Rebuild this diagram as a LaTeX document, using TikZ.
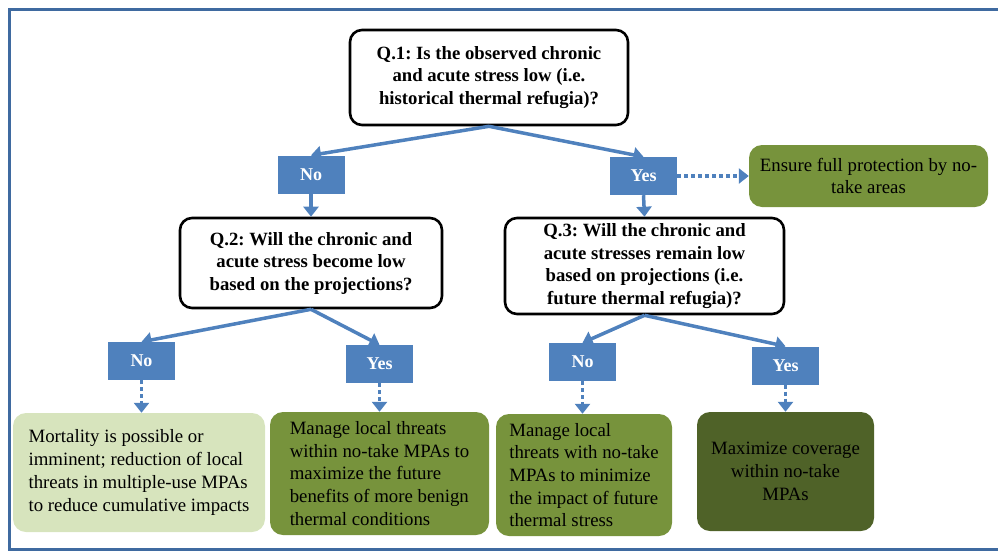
\documentclass[tikz,border=0pt]{standalone}
\usepackage{fontspec}
\setmainfont{Liberation Serif}
\usepackage{tikz}
\usetikzlibrary{arrows.meta}
\frenchspacing

\definecolor{frameblue}{HTML}{3F6AA0}
\definecolor{ansblue}{HTML}{4F81BD}
\definecolor{palegreen}{HTML}{D7E4BD}
\definecolor{olivegreen}{HTML}{77933C}
\definecolor{darkgreen}{HTML}{4F6228}

\begin{document}
\begin{tikzpicture}[x=1pt,y=-1pt,
	qbox/.style={draw=black,line width=2.6pt,rounded corners=12pt,fill=white,align=center,
		font=\fontsize{18.7}{22.5}\selectfont\bfseries,inner sep=0pt},
	ansbox/.style={fill=ansblue,text=white,font=\fontsize{18}{20}\selectfont\bfseries,
		minimum width=67pt,minimum height=38pt,inner sep=0pt},
	actbox/.style={rounded corners=13pt,font=\fontsize{18.8}{22.7}\selectfont,inner sep=0pt},
	link/.style={draw=ansblue,line width=3.5pt,-{Triangle[width=15pt,length=10pt]}},
	dotlink/.style={draw=ansblue,line width=3.5pt,dash pattern=on 4pt off 3pt,
		-{Triangle[width=15pt,length=10pt]}},
	]
	\useasboundingbox (0,0) rectangle (998,552);
	\draw[frameblue,line width=3pt] (1010,9) -- (9,9) -- (9,549) -- (1010,549);

	% questions
	\node[qbox,minimum width=278pt,minimum height=95pt] (q1) at (489,77.5)
		{Q.1: Is the observed chronic\\and acute stress low (i.e.\\historical thermal refugia)?};
	\node[qbox,minimum width=262pt,minimum height=90pt] (q2) at (311,263)
		{Q.2: Will the chronic and\\acute stress become low\\based on the projections?};
	\node[qbox,minimum width=279pt,minimum height=96pt] (q3) at (644.5,266)
		{Q.3: Will the chronic and\\acute stresses remain low\\based on projections (i.e.\\future thermal refugia)?};

	% answers
	\node[ansbox] (no1) at (311,174.5) {No};
	\node[ansbox] (yes1) at (643.5,176) {Yes};
	\node[ansbox] (no2) at (141.5,361) {No};
	\node[ansbox] (yes2) at (379.5,364) {Yes};
	\node[ansbox] (no3) at (582.5,362) {No};
	\node[ansbox] (yes3) at (785.5,365.5) {Yes};

	% actions
	\node[actbox,fill=olivegreen,minimum width=239pt,minimum height=62pt,align=center] (protect) at (868.5,176)
		{Ensure full protection by no-\\take areas};
	\node[actbox,fill=palegreen,minimum width=252pt,minimum height=119pt,align=left] (mortal) at (139,472.5)
		{Mortality is possible or\\imminent; reduction of local\\threats in multiple-use MPAs\\to reduce cumulative impacts};
	\node[actbox,fill=olivegreen,minimum width=219pt,minimum height=123pt,align=left] (benign) at (379.5,473.5)
		{Manage local threats\\within no-take MPAs to\\maximize the future\\benefits of more benign\\thermal conditions};
	\node[actbox,fill=olivegreen,minimum width=176pt,minimum height=122pt,align=left] (future) at (584,475)
		{Manage local\\threats with no-take\\MPAs to minimize\\the impact of future\\thermal stress};
	\node[actbox,fill=darkgreen,minimum width=177pt,minimum height=119pt,align=center] (cover) at (785.5,471.5)
		{Maximize coverage\\within no-take\\MPAs};

	% links
	\draw[link] (q1.south) -- (no1.north);
	\draw[link] (q1.south) -- (yes1.north);
	\draw[link] (no1.south) -- (q2.north);
	\draw[link] (yes1.south) -- (q3.north);
	\draw[dotlink] (yes1.east) -- (protect.west);
	\draw[link] (q2.south) -- (no2.north);
	\draw[link] (q2.south) -- (yes2.north);
	\draw[link] (q3.south) -- (no3.north);
	\draw[link] (q3.south) -- (yes3.north);
	\draw[dotlink] (no2.south) -- (mortal.north -| no2.south);
	\draw[dotlink] (yes2.south) -- (benign.north -| yes2.south);
	\draw[dotlink] (no3.south) -- (future.north -| no3.south);
	\draw[dotlink] (yes3.south) -- (cover.north -| yes3.south);
\end{tikzpicture}
\end{document}
